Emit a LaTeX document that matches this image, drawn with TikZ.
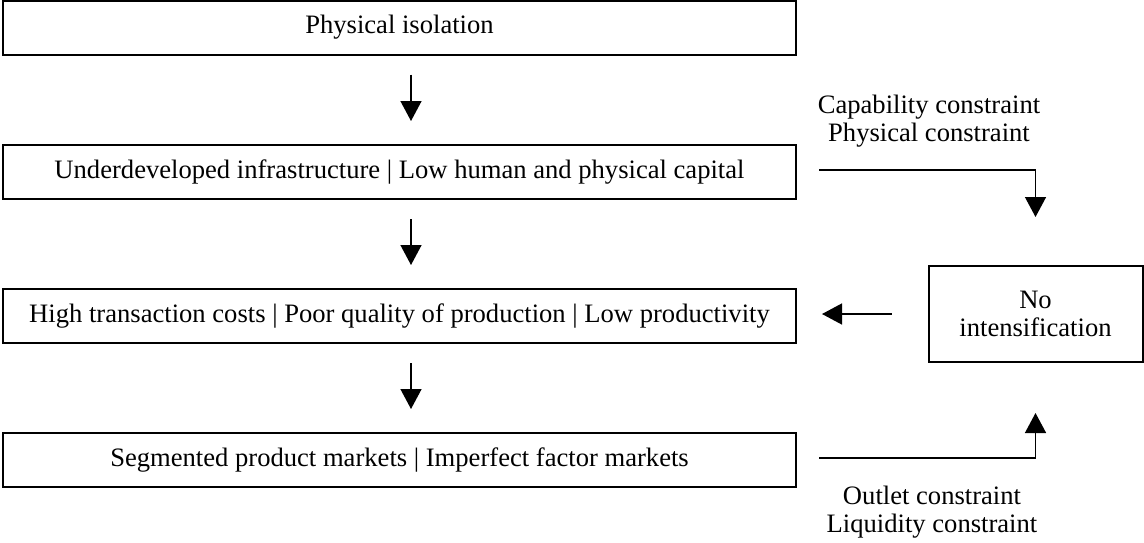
\documentclass[tikz,border=0pt]{standalone}
\usepackage{fontspec}
\setmainfont{Liberation Serif}
\usetikzlibrary{arrows.meta}
\tikzset{
    box/.style={draw, line width=1pt, minimum width=396.5pt, minimum height=27pt, inner sep=0pt},
    arr/.style={-{Triangle[length=10pt,width=10.5pt]}, line width=0.7pt},
    lbl/.style={align=center, inner sep=0pt}
}
\begin{document}
\begin{tikzpicture}[x=0.5pt,y=-0.5pt,font=\fontsize{13.3}{14}\selectfont]
    \useasboundingbox (0,0) rectangle (1144,542);
    \node[box] (iso) at (399.5,27.5) {Physical isolation};
    \node[box] (infra) at (399.5,172) {Underdeveloped infrastructure | Low human and physical capital};
    \node[box] (trans) at (399.5,316) {High transaction costs | Poor quality of production | Low productivity};
    \node[box] (markets) at (399.5,460) {Segmented product markets | Imperfect factor markets};
    \node[box, minimum width=107pt, minimum height=48pt, align=center] (nointens) at (1035.5,314) {No\\intensification};

    \node[lbl] (capcon) at (929,121.5) {Capability constraint\\Physical constraint};
    \node[lbl] (outcon) at (932,512) {Outlet constraint\\Liquidity constraint};

    \foreach \a/\b in {iso/infra, infra/trans, trans/markets}
        \draw[arr, shorten <=9.5pt, shorten >=11.5pt] ([xshift=5.75pt]\a.south) -- ([xshift=5.75pt]\b.north);

    \draw[arr] ([xshift=11pt,yshift=1pt]infra.east) -| ([yshift=24pt]nointens.north);
    \draw[arr] ([xshift=11pt,yshift=1pt]markets.east) -| ([yshift=-25pt]nointens.south);
    \draw[arr] ([xshift=-18pt]nointens.west) -- ([xshift=12.5pt]trans.east |- nointens.west);

\end{tikzpicture}
\end{document}
